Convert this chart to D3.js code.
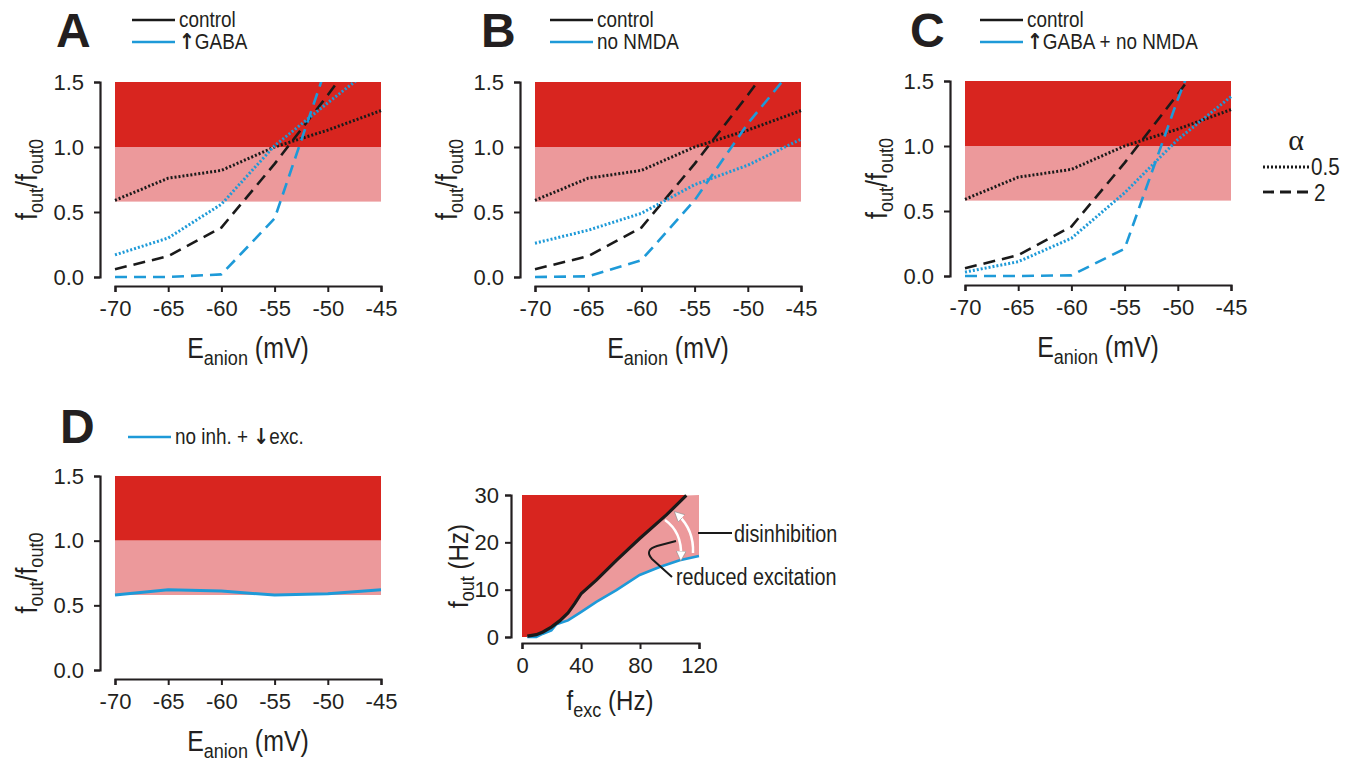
<!DOCTYPE html>
<html>
<head>
<meta charset="utf-8">
<script src="https://cdn.jsdelivr.net/npm/d3@7"></script>
<style>
html,body{margin:0;padding:0;background:#fff;}
svg text{font-family:"Liberation Sans",Arial,sans-serif;fill:#231f20;}
</style>
</head>
<body>
<svg id="chart" width="1354" height="763"></svg>
<script>
// ---------- data ----------
const eAnion = [-70, -65, -60, -55, -50, -45];
const xTicks = [-70, -65, -60, -55, -50, -45];
const yTicks = [0, 0.5, 1.0, 1.5];

const controlAlpha05 = [0.59, 0.76, 0.82, 1.00, 1.13, 1.28];
const controlAlpha2  = [0.06, 0.16, 0.38, 0.87, 1.40, 1.95];

const gabaAlpha05 = [0.17, 0.30, 0.56, 1.01, 1.34, 1.66];
const gabaAlpha2  = [0.00, 0.00, 0.02, 0.45, 1.65, 2.80];

const noNmdaAlpha05 = [0.26, 0.36, 0.49, 0.71, 0.86, 1.06];
const noNmdaAlpha2  = [0.00, 0.005, 0.13, 0.59, 1.18, 1.68];

const gabaNoNmdaAlpha05 = [0.03, 0.11, 0.29, 0.64, 1.05, 1.38];
const gabaNoNmdaAlpha2  = [0.00, 0.00, 0.005, 0.21, 1.36, 2.40];

const noInhReducedExc = [0.58, 0.62, 0.61, 0.58, 0.59, 0.62];

const bandLow = 0.58, bandMid = 1.0, bandHigh = 1.5;

// inset
const fExcControl = [3.6, 9.7, 14.2, 19.9, 25.5, 31.2, 35.7, 40.2, 50.4, 64, 79.8, 97.9, 111.4];
const fOutControl = [0.2, 0.5, 1.06, 2.1, 3.4, 5.1, 7.06, 9.2, 12, 16.2, 20.8, 25.8, 29.9];
const fExcReduced = [3.6, 9.7, 14.2, 19.9, 23.3, 31.2, 40.2, 50.4, 64, 79.8, 93.3, 106.9, 120];
const fOutReduced = [0.0, 0.0, 0.7, 1.4, 2.7, 3.5, 5.3, 7.4, 9.9, 13.1, 14.8, 16.2, 17.1];
const insetXTicks = [0, 40, 80, 120];
const insetYTicks = [0, 10, 20, 30];

// ---------- style ----------
const DARK = "#d8251f", PINK = "#ec999b", BLUE = "#1e9ad8", BLACK = "#1a1a1a", AX = "#231f20";
const DOT = "2,2", DASH = "12,7";
const SX = 0.86; // condensed look

const svg = d3.select("#chart");
const defs = svg.append("defs");

function ctext(g, x, y, size, anchor, rot) {
  return g.append("text")
    .attr("transform", `translate(${x},${y})${rot ? " rotate(-90)" : ""} scale(${SX},1)`)
    .attr("text-anchor", anchor || "start").style("font-size", size + "px");
}
function addSub(t, main, sub, rest, subDy, sub2) {
  t.append("tspan").text(main);
  t.append("tspan").text(sub).style("font-size", "21px").attr("dy", subDy);
  t.append("tspan").text(rest).attr("dy", -subDy);
  if (sub2) t.append("tspan").text(sub2).style("font-size", "21px").attr("dy", subDy);
  return t;
}
function legendText(t, s) {
  const m = s.match(/^(.*?)([↑↓])(.*)$/);
  if (!m) { t.text(s); return; }
  if (m[1]) t.append("tspan").text(m[1]);
  t.append("tspan").text(m[2]).style("font-family", "'DejaVu Sans',sans-serif").style("font-weight", "bold");
  t.append("tspan").text(m[3]);
}

function panel(o) {
  const g = svg.append("g");
  const x = d3.scaleLinear().domain([-70, -45]).range([o.x0, o.x0 + 266]);
  const y = d3.scaleLinear().domain([0, 1.5]).range([o.yb, o.yb - o.h]);
  g.append("rect").attr("x", x(-70)).attr("width", x(-45) - x(-70))
    .attr("y", y(bandHigh)).attr("height", y(bandMid) - y(bandHigh)).attr("fill", DARK);
  g.append("rect").attr("x", x(-70)).attr("width", x(-45) - x(-70))
    .attr("y", y(bandMid)).attr("height", y(bandLow) - y(bandMid)).attr("fill", PINK);
  const cid = "clip" + o.id;
  defs.append("clipPath").attr("id", cid).append("rect")
    .attr("x", x(-70) - 5).attr("y", y(1.5)).attr("width", 280).attr("height", o.h + 10);
  const line = d3.line().x((d, i) => x(eAnion[i])).y(d => y(d));
  const lg = g.append("g").attr("clip-path", `url(#${cid})`);
  o.series.forEach(s => {
    lg.append("path").attr("d", line(s.v)).attr("fill", "none").attr("stroke", s.c)
      .attr("stroke-width", s.w || (s.d === DOT ? 3 : 2.6)).attr("stroke-dasharray", s.d || null)
      .attr("stroke-linejoin", "round");
  });
  const ya = g.append("g").attr("transform", `translate(${x(-70) - 15},0)`)
    .call(d3.axisLeft(y).tickValues(yTicks).tickFormat(d3.format(".1f")).tickSizeOuter(0).tickSize(6).tickPadding(10));
  const xa = g.append("g").attr("transform", `translate(0,${y(0) + 9})`)
    .call(d3.axisBottom(x).tickValues(xTicks).tickFormat(d => d).tickSizeOuter(0).tickSize(6).tickPadding(8));
  [ya, xa].forEach(a => {
    a.select(".domain").attr("stroke", AX).attr("stroke-width", 2.2);
    a.selectAll(".tick line").attr("stroke", AX).attr("stroke-width", 2);
    a.selectAll(".tick text").style("font-size", "22px").style("font-family", null).attr("fill", AX);
  });
  addSub(ctext(g, o.x0 - 78, y(0.75), 29, "middle", true), "f", "out", "/f", 6, "out0");
  addSub(ctext(g, (x(-70) + x(-45)) / 2, y(0) + 81, 29, "middle"), "E", "anion", " (mV)", 7);
  g.append("text").attr("x", o.lx).attr("y", o.ly).text(o.letter)
    .style("font-size", "48px").style("font-weight", "bold");
  o.legend.forEach((l, i) => {
    const yy = o.legY + i * 22;
    g.append("line").attr("x1", o.legX).attr("x2", o.legX + 43).attr("y1", yy).attr("y2", yy)
      .attr("stroke", l.c).attr("stroke-width", 2.6);
    legendText(ctext(g, o.legX + 47, yy + 7, 22), l.t);
  });
}

panel({id: "A", x0: 115, yb: 277, h: 195, letter: "A", lx: 56, ly: 47, legX: 132, legY: 20,
  legend: [{c: BLACK, t: "control"}, {c: BLUE, t: "↑GABA"}],
  series: [
    {v: controlAlpha05, c: BLACK, d: DOT}, {v: controlAlpha2, c: BLACK, d: DASH},
    {v: gabaAlpha05, c: BLUE, d: DOT}, {v: gabaAlpha2, c: BLUE, d: DASH}]});
panel({id: "B", x0: 535, yb: 277, h: 195, letter: "B", lx: 481, ly: 47, legX: 550, legY: 20,
  legend: [{c: BLACK, t: "control"}, {c: BLUE, t: "no NMDA"}],
  series: [
    {v: controlAlpha05, c: BLACK, d: DOT}, {v: controlAlpha2, c: BLACK, d: DASH},
    {v: noNmdaAlpha05, c: BLUE, d: DOT}, {v: noNmdaAlpha2, c: BLUE, d: DASH}]});
panel({id: "C", x0: 965, yb: 276, h: 195, letter: "C", lx: 910, ly: 47, legX: 980, legY: 20,
  legend: [{c: BLACK, t: "control"}, {c: BLUE, t: "↑GABA + no NMDA"}],
  series: [
    {v: controlAlpha05, c: BLACK, d: DOT}, {v: controlAlpha2, c: BLACK, d: DASH},
    {v: gabaNoNmdaAlpha05, c: BLUE, d: DOT}, {v: gabaNoNmdaAlpha2, c: BLUE, d: DASH}]});
panel({id: "D", x0: 115, yb: 670, h: 194, letter: "D", lx: 60, ly: 443, legX: 128, legY: 437,
  legend: [{c: BLUE, t: "no inh. + ↓exc."}],
  series: [{v: noInhReducedExc, c: BLUE, w: 3}]});

// alpha legend
{
  const g = svg.append("g");
  g.append("text").attr("x", 1296).attr("y", 150).attr("text-anchor", "middle").text("α")
    .style("font-size", "30px").style("font-family", "'Liberation Serif',serif");
  g.append("line").attr("x1", 1263).attr("x2", 1311).attr("y1", 167).attr("y2", 167)
    .attr("stroke", BLACK).attr("stroke-width", 3).attr("stroke-dasharray", DOT);
  ctext(g, 1311, 175, 24).text("0.5");
  g.append("line").attr("x1", 1263).attr("x2", 1313).attr("y1", 192).attr("y2", 192)
    .attr("stroke", BLACK).attr("stroke-width", 2.8).attr("stroke-dasharray", "11,6");
  ctext(g, 1314, 201, 24).text("2");
}

// inset
{
  const g = svg.append("g");
  const x = d3.scaleLinear().domain([0, 120]).range([522, 699]);
  const y = d3.scaleLinear().domain([0, 30]).range([637, 495]);
  const ctrl = fExcControl.map((f, i) => [f, fOutControl[i]]);
  const red = fExcReduced.map((f, i) => [f, fOutReduced[i]]);
  const last = ctrl[ctrl.length - 1];
  const darkPoly = [[0, 30], [last[0], 30], ...ctrl.slice().reverse(), [ctrl[0][0], 0], [0, 0]];
  const pinkPoly = [...ctrl, [120, 30], ...red.slice().reverse()];
  const lineXY = d3.line().x(d => x(d[0])).y(d => y(d[1]));
  g.append("path").attr("d", lineXY(pinkPoly) + "Z").attr("fill", PINK);
  g.append("path").attr("d", lineXY(darkPoly) + "Z").attr("fill", DARK);
  g.append("path").attr("d", lineXY(red)).attr("fill", "none").attr("stroke", BLUE).attr("stroke-width", 2.6);
  g.append("path").attr("d", lineXY(ctrl)).attr("fill", "none").attr("stroke", BLACK).attr("stroke-width", 3.2);
  const ya = g.append("g").attr("transform", "translate(511,0)")
    .call(d3.axisLeft(y).tickValues(insetYTicks).tickSizeOuter(0).tickSize(6).tickPadding(6));
  const xa = g.append("g").attr("transform", "translate(0,643)")
    .call(d3.axisBottom(x).tickValues(insetXTicks).tickSizeOuter(0).tickSize(6).tickPadding(8));
  [ya, xa].forEach(a => {
    a.select(".domain").attr("stroke", AX).attr("stroke-width", 2.2);
    a.selectAll(".tick line").attr("stroke", AX).attr("stroke-width", 2);
    a.selectAll(".tick text").style("font-size", "22px").style("font-family", null).attr("fill", AX);
  });
  addSub(ctext(g, 468, 566, 28, "middle", true), "f", "out", " (Hz)", 6);
  addSub(ctext(g, 610, 710, 28, "middle"), "f", "exc", " (Hz)", 7);
  defs.append("marker").attr("id", "wh").attr("viewBox", "0 0 10 10").attr("refX", 5).attr("refY", 5)
    .attr("markerWidth", 4).attr("markerHeight", 4).attr("orient", "auto")
    .append("path").attr("d", "M0,0 L10,5 L0,10 Z").attr("fill", "#fff").attr("stroke", "#888").attr("stroke-width", 0.6);
  g.append("path").attr("d", "M665,520 Q682,532 681,556").attr("fill", "none")
    .attr("stroke", "#fff").attr("stroke-width", 2.5).attr("marker-end", "url(#wh)");
  g.append("path").attr("d", "M693,553 Q694,530 678,515").attr("fill", "none")
    .attr("stroke", "#fff").attr("stroke-width", 2.5).attr("marker-end", "url(#wh)");
  g.append("line").attr("x1", 698).attr("x2", 732).attr("y1", 533).attr("y2", 533).attr("stroke", BLACK).attr("stroke-width", 2);
  g.append("path").attr("d", "M676,541 L657,546 Q644,550 652,559 L672,577").attr("fill", "none")
    .attr("stroke", BLACK).attr("stroke-width", 2);
  ctext(g, 734, 542, 23).text("disinhibition");
  ctext(g, 676, 585, 23).text("reduced excitation");
}
</script>
</body>
</html>
